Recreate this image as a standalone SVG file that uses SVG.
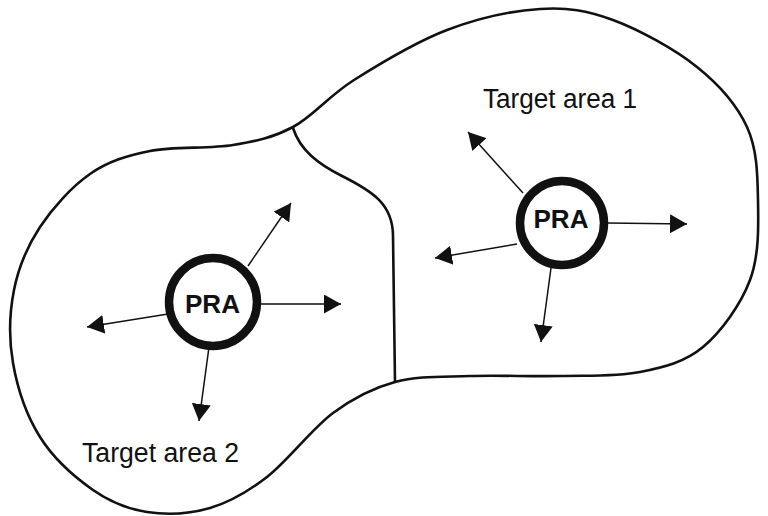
<svg xmlns="http://www.w3.org/2000/svg" width="768" height="516" viewBox="0 0 768 516">
  <style>
    .boundary { fill: none; stroke: #111; stroke-width: 2.6; stroke-linejoin: round; stroke-linecap: round; }
    .pra-ring { fill: #fff; stroke: #111; stroke-width: 8.5; }
    .pra-text { font-family: "Liberation Sans", Arial, Helvetica, sans-serif; font-weight: bold; font-size: 25px; fill: #111; text-anchor: middle; }
    .label { font-family: "Liberation Sans", Arial, Helvetica, sans-serif; font-size: 27px; fill: #111; }
    .arrow { fill: none; stroke: #111; stroke-width: 1.5; marker-end: url(#ah); }
  </style>
  <defs>
    <marker id="ah" viewBox="0 0 17 19" refX="17" refY="9.5" markerWidth="17" markerHeight="19" markerUnits="userSpaceOnUse" orient="auto">
      <path d="M0,0 L17,9.5 L0,19 Z" fill="#111"/>
    </marker>
  </defs>
  <rect width="768" height="516" fill="#fff"/>

  <g id="region-outline">
    <path class="boundary" d="M293,127 C313.2,116.2 328.3,96.2 354,80 C379.7,63.8 416,41.8 447,30 C478,18.2 512.3,10.7 540,9 C567.7,7.3 586.8,10.3 613,20 C639.2,29.7 674.7,49.2 697,67 C719.3,84.8 736.8,104.8 747,127 C757.2,149.2 757.5,174.5 758,200 C758.5,225.5 759.2,255.5 750,280 C740.8,304.5 721.3,331.7 703,347 C684.7,362.3 663.8,367.2 640,372 C616.2,376.8 588.3,375.3 560,376 C531.7,376.7 497.5,375 470,376 C442.5,377 417.8,375.8 395,382 C372.2,388.2 354.3,397.2 333,413 C311.7,428.8 287.5,461.2 267,477 C246.5,492.8 230,502.2 210,508 C190,513.8 166.5,515 147,512 C127.5,509 110.8,502.5 93,490 C75.2,477.5 53.3,458.2 40,437 C26.7,415.8 17.3,387.5 13,363 C8.7,338.5 9.5,312.7 14,290 C18.5,267.3 27.3,246.3 40,227 C52.7,207.7 71.7,186.7 90,174 C108.3,161.3 126.2,155.8 150,151 C173.8,146.2 209.2,149 233,145 C256.8,141 272.8,137.8 293,127 Z"/>
  </g>

  <g id="divider">
    <path class="boundary" d="M293,128 C300,150 318,164 342,176 C372,191 393,204 393,236 L395,382"/>
  </g>

  <g id="connectors">
    <line class="arrow" x1="523" y1="193" x2="468" y2="132"/>
    <line class="arrow" x1="608" y1="223" x2="687" y2="224"/>
    <line class="arrow" x1="517" y1="244" x2="435" y2="258"/>
    <line class="arrow" x1="551" y1="268" x2="541" y2="342"/>
    <line class="arrow" x1="248" y1="266" x2="291" y2="203"/>
    <line class="arrow" x1="261" y1="304" x2="341" y2="304"/>
    <line class="arrow" x1="168" y1="314" x2="87" y2="327"/>
    <line class="arrow" x1="209" y1="347" x2="199" y2="421"/>
  </g>

  <g id="pra-1">
    <circle class="pra-ring" cx="562" cy="223" r="42"/>
    <text class="pra-text" x="561" y="228" textLength="55" lengthAdjust="spacingAndGlyphs">PRA</text>
  </g>

  <g id="pra-2">
    <circle class="pra-ring" cx="213" cy="302" r="44"/>
    <text class="pra-text" x="212.5" y="313" textLength="55" lengthAdjust="spacingAndGlyphs">PRA</text>
  </g>

  <g id="label-target-area-1">
    <text class="label" x="483" y="108" textLength="154" lengthAdjust="spacingAndGlyphs">Target area 1</text>
  </g>

  <g id="label-target-area-2">
    <text class="label" x="82" y="462" textLength="157" lengthAdjust="spacingAndGlyphs">Target area 2</text>
  </g>
</svg>
